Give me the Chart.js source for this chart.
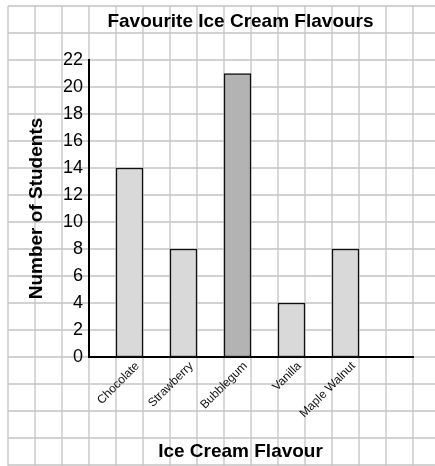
<!DOCTYPE html>
<html>
<head>
<meta charset="utf-8">
<title>Favourite Ice Cream Flavours</title>
<script src="https://cdn.jsdelivr.net/npm/chart.js@4.4.1/dist/chart.umd.min.js"></script>
<style>
  html, body { margin: 0; padding: 0; background: #fff; }
  #wrap { width: 435px; height: 466px; }
</style>
</head>
<body>
<div id="wrap"><canvas id="chart"></canvas></div>
<script>
// --- chart values ---
const flavours = ['Chocolate', 'Strawberry', 'Bubblegum', 'Vanilla', 'Maple Walnut'];
const students = [14, 8, 21, 4, 8];
const barShades = ['#d9d9d9', '#d9d9d9', '#b3b3b3', '#d9d9d9', '#d9d9d9'];
const yTicks = [0, 2, 4, 6, 8, 10, 12, 14, 16, 18, 20, 22];

const chartTitle = 'Favourite Ice Cream Flavours';
const xTitle = 'Ice Cream Flavour';
const yTitle = 'Number of Students';

const FONT = '"Liberation Sans", Arial, Helvetica, sans-serif';
const TITLE_X = 240.5;

// every flavour sits in every second cell of the graph paper, one spare pair at the end
const slotLabels = [];
const slotValues = [];
const slotColours = [];
flavours.forEach((name, i) => {
    slotLabels.push('', name);
    slotValues.push(null, students[i]);
    slotColours.push('transparent', barShades[i]);
});
slotLabels.push('', '');
slotValues.push(null, null);
slotColours.push('transparent', 'transparent');

// graph paper behind the chart, cell size taken from the y scale (2 students per cell)
const graphPaper = {
    id: 'graphPaper',
    beforeDraw(chart) {
        const { ctx, width, height, chartArea, scales } = chart;
        const y = scales.y;
        const y0 = y.getPixelForValue(0);
        const cell = y0 - y.getPixelForValue(2);
        const left = chartArea.left - 3 * cell;
        const top = y0 - 13 * cell;

        ctx.save();
        ctx.fillStyle = '#fff';
        ctx.fillRect(0, 0, width, height);
        ctx.strokeStyle = '#c4c4c4';
        ctx.lineWidth = 1.3;
        ctx.beginPath();
        for (let x = left; x <= width; x += cell) {
            ctx.moveTo(x, top);
            ctx.lineTo(x, height);
        }
        for (let yy = top; yy <= height + 1; yy += cell) {
            ctx.moveTo(left, yy);
            ctx.lineTo(width, yy);
        }
        ctx.stroke();
        ctx.restore();
    }
};

// main title and x title sit a little left of the plot centre in the original
const titles = {
    id: 'titles',
    afterDraw(chart) {
        const ctx = chart.ctx;
        ctx.save();
        ctx.fillStyle = '#000';
        ctx.font = 'bold 19px ' + FONT;
        ctx.textAlign = 'center';
        ctx.textBaseline = 'alphabetic';
        ctx.fillText(chartTitle, TITLE_X, 27);
        ctx.fillText(xTitle, TITLE_X, 457);
        ctx.restore();
    }
};

Chart.defaults.font.family = FONT;

new Chart(document.getElementById('chart'), {
    type: 'bar',
    data: {
        labels: slotLabels,
        datasets: [{
            data: slotValues,
            backgroundColor: slotColours,
            borderColor: '#111',
            borderWidth: 1.5,
            borderSkipped: false,
            barPercentage: 1,
            categoryPercentage: 1
        }]
    },
    options: {
        responsive: true,
        maintainAspectRatio: false,
        animation: false,
        layout: { padding: { top: 60, right: 22, left: 0, bottom: 0 } },
        plugins: {
            legend: { display: false },
            tooltip: { enabled: false },
            title: { display: false }
        },
        scales: {
            x: {
                grid: { display: false, drawTicks: false },
                border: { display: true, color: '#000', width: 2 },
                ticks: {
                    autoSkip: false,
                    minRotation: 45,
                    maxRotation: 45,
                    padding: 2,
                    labelOffset: 8,
                    color: '#111',
                    font: { size: 12 }
                },
                afterFit(scale) { scale.height = 109; }
            },
            y: {
                min: 0,
                max: 22,
                afterBuildTicks(scale) {
                    scale.ticks = yTicks.map(v => ({ value: v }));
                },
                grid: { display: false, drawTicks: false },
                border: { display: true, color: '#000', width: 2 },
                ticks: { padding: 6, color: '#000', font: { size: 18 } },
                title: {
                    display: true,
                    text: yTitle,
                    color: '#000',
                    font: { size: 19, weight: 'bold' },
                    padding: { top: 25, bottom: 0 }
                },
                afterFit(scale) { scale.width = 89; }
            }
        }
    },
    plugins: [graphPaper, titles]
});
</script>
</body>
</html>
